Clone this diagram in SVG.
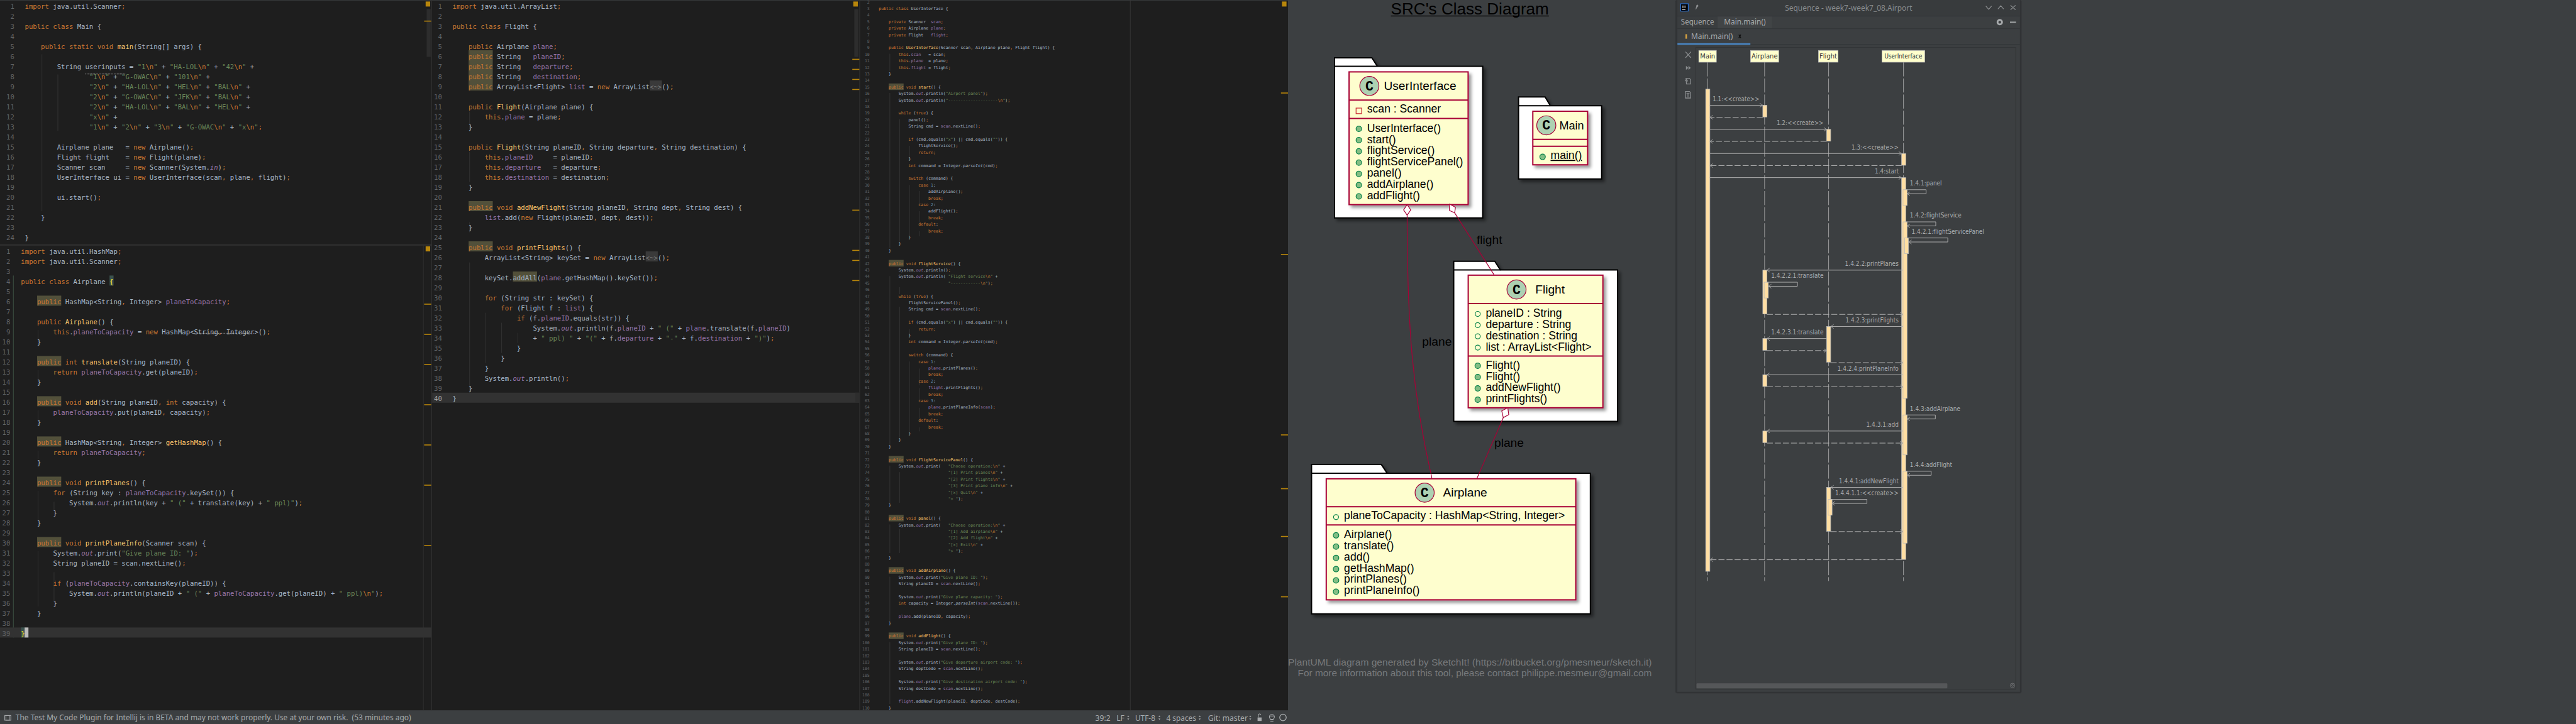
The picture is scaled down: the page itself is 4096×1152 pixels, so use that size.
<svg xmlns="http://www.w3.org/2000/svg" width="4096" height="1152" viewBox="0 0 4096 1152">
<defs>
<style>
text{white-space:pre}
.c{font-family:"DejaVu Sans Mono",monospace;font-size:13.29px;fill:#a9b7c6}
.c3{font-family:"DejaVu Sans Mono",monospace;font-size:8.2px;fill:#a9b7c6}
.n{fill:#606366;text-anchor:end}
.k{fill:#cc7832}.s{fill:#6a8759}.f{fill:#9876aa}.m{fill:#ffc66d}.i{fill:#9876aa;font-style:italic}.h{fill:#b4b4b4;font-style:italic}
.hl{fill:#52503a}.gd{stroke:#373737;stroke-width:1;fill:none}.mk{fill:#b8860b}.th{fill:#2d2d2d}
.ui{font-family:"Noto Sans",sans-serif;fill:#a8abad;font-size:15px}
.pkg{fill:#fff;stroke:#000;stroke-width:2.5;filter:url(#sh)}
.cls{fill:#fefece;stroke:#a80036;stroke-width:2.5;filter:url(#sh2)}
.sep{stroke:#a80036;stroke-width:2.5}
.circ{fill:#add1b2;stroke:#a80036;stroke-width:1.5}
.cg{font-family:"Liberation Mono",monospace;font-weight:bold;font-size:27px;text-anchor:middle;fill:#000}
.nm{font-family:"Liberation Sans",Arial,sans-serif;font-size:24px;fill:#000}
.mb{font-family:"Liberation Sans",Arial,sans-serif;font-size:22px;fill:#000}
.pm{fill:#84be84;stroke:#038048;stroke-width:1.5}
.pf{fill:none;stroke:#038048;stroke-width:1.5}
.cn{fill:none;stroke:#a80036;stroke-width:1.5}
.dm{fill:#fff;stroke:#a80036;stroke-width:1.5}
.lb{font-family:"Liberation Sans",Arial,sans-serif;font-size:24px;fill:#000}
.ft{font-family:"Liberation Sans",Arial,sans-serif;font-size:18.5px;fill:#77797b}
.ll{stroke:#b5b5b5;stroke-width:1;stroke-dasharray:28 4;fill:none}
.lf{fill:#ffc;stroke:#bbb;stroke-width:1}
.lt{font-family:"DejaVu Sans",sans-serif;font-size:12.5px;fill:#333;text-anchor:middle}
.b{fill:#ffdea3;stroke:#bbb;stroke-width:1}
.ms{stroke:#b5b5b5;stroke-width:1.2;fill:none;marker-end:url(#ah)}
.rt{stroke:#b5b5b5;stroke-width:1.2;fill:none;stroke-dasharray:12 4;marker-end:url(#ah)}
.sl{font-family:"DejaVu Sans",sans-serif;font-size:12.5px;fill:#a9abad}
.ic{fill:none;stroke:#8a8d8f;stroke-width:1.6}
</style>
<filter id="sh" x="-10%" y="-10%" width="125%" height="125%"><feDropShadow dx="5" dy="5" stdDeviation="3" flood-color="#000" flood-opacity=".45"/></filter>
<filter id="sh2" x="-10%" y="-10%" width="125%" height="125%"><feDropShadow dx="5" dy="5" stdDeviation="3" flood-color="#000" flood-opacity=".4"/></filter>
<marker id="ah" viewBox="0 -5 6 10" refX="6" refY="0" markerWidth="6" markerHeight="10" markerUnits="userSpaceOnUse" orient="auto"><path d="M0-4 6 0 0 4" fill="none" stroke="#a0a0a0" stroke-width="1.2"/></marker>
</defs>
<g transform="scale(.8)">
<rect width="5120" height="1440" fill="#3c3f41"/>
<g id="editor-background">
<rect width="2560" height="1413" fill="#1e1e1e"/>
<rect y="0" width="2560" height="1" fill="#3c3f41"/>
<rect y="486" width="858" height="2.5" fill="#323232"/>
<rect x="857" width="1.5" height="1413" fill="#323232"/>
<rect x="1708" width="1.5" height="1413" fill="#323232"/>
<rect x="2246" width="1" height="1413" fill="#3a3a3a"/>
<rect x="841" y="488" width="1" height="925" fill="#323232"/>
<rect x="26" y="548" width="1" height="720" fill="#46604f"/>
<rect y="1248" width="857" height="20" fill="#323232"/>
<rect x="858" y="781" width="850" height="20" fill="#323232"/>
</g>
<g id="stripes">
<rect class="th" x="848" y="18" width="8" height="95"/><rect class="th" x="1698" y="18" width="8" height="95"/>
<rect class="th" x="1700" y="781" width="8" height="19"/><rect class="th" x="857" y="782" width="3" height="18"/>
<rect class="mk" x="846" y="3" width="9" height="10"/><rect class="mk" x="843" y="41" width="14" height="2"/>
<rect class="mk" x="846" y="490" width="9" height="10"/>
<rect class="mk" x="843" y="604" width="14" height="2"/><rect class="mk" x="843" y="664" width="14" height="2"/><rect class="mk" x="843" y="724" width="14" height="2"/><rect class="mk" x="843" y="804" width="14" height="2"/><rect class="mk" x="843" y="884" width="14" height="2"/><rect class="mk" x="843" y="964" width="14" height="2"/><rect class="mk" x="843" y="1084" width="14" height="2"/>
<rect class="mk" x="1696" y="3" width="9" height="10"/>
<rect class="mk" x="1694" y="117" width="14" height="2"/><rect class="mk" x="1694" y="137" width="14" height="2"/><rect class="mk" x="1694" y="157" width="14" height="2"/><rect class="mk" x="1694" y="177" width="14" height="2"/><rect class="mk" x="1694" y="417" width="14" height="2"/><rect class="mk" x="1694" y="497" width="14" height="2"/><rect class="mk" x="1694" y="517" width="14" height="2"/><rect class="mk" x="1694" y="557" width="14" height="2"/>
<rect class="mk" x="2548" y="3" width="9" height="10"/>
<rect class="mk" x="2546" y="184" width="14" height="2"/><rect class="mk" x="2546" y="505" width="14" height="2"/><rect class="mk" x="2546" y="864" width="14" height="2"/><rect class="mk" x="2546" y="971" width="14" height="2"/><rect class="mk" x="2546" y="1066" width="14" height="2"/><rect class="mk" x="2546" y="1186" width="14" height="2"/>
</g>
<g id="highlights">
<rect class="hl" x="73.7" y="588" width="48" height="20"/><rect class="hl" x="73.7" y="708" width="48" height="20"/><rect class="hl" x="73.7" y="788" width="48" height="20"/><rect class="hl" x="73.7" y="868" width="48" height="20"/><rect class="hl" x="73.7" y="948" width="48" height="20"/><rect class="hl" x="73.7" y="1068" width="48" height="20"/>
<rect x="217.7" y="548" width="8" height="20" fill="#3b514d"/><rect x="41.7" y="1248" width="8" height="20" fill="#3b514d"/><rect x="49" y="1248" width="7.5" height="20" fill="#bbb"/>
<rect class="hl" x="931.4" y="100" width="48" height="80"/><rect class="hl" x="931.4" y="400" width="48" height="20"/><rect class="hl" x="931.4" y="480" width="48" height="20"/><rect class="hl" x="1019.4" y="540" width="48" height="20"/>
<rect x="1291.4" y="160" width="24" height="20" fill="#3a3a3a"/><rect x="1283.4" y="500" width="24" height="20" fill="#3a3a3a"/>
<rect class="hl" x="1766.4" y="166" width="29.6" height="13"/><rect class="hl" x="1766.4" y="517" width="29.6" height="13"/><rect class="hl" x="1766.4" y="907" width="29.6" height="13"/><rect class="hl" x="1766.4" y="1024" width="29.6" height="13"/><rect class="hl" x="1766.4" y="1128" width="29.6" height="13"/><rect class="hl" x="1766.4" y="1258" width="29.6" height="13"/>
</g>
<g id="indent-guides">
<path class="gd" d="M83.4 108V420M115 148V260M75.7 656V688M75.7 736V768M75.7 816V848M75.7 896V928M75.7 976V1036M107.4 998V1016M75.7 1096V1206M107.4 1138V1196"/>
<path class="gd" d="M933.4 222V262M933.4 302V362M933.4 442V462M933.4 522V782M965.2 622V722M997 642V702M1029.4 662V682"/>
<path class="gd" d="M1768.6 107V141M1768.6 185V494M1768.6 549V890M1768.6 926V1000M1768.6 1043V1100M1768.6 1147V1238M1768.6 1277V1400M1788.3 237V481M1788.3 571V585M1788.3 610V871M1788.3 939V1000M1788.3 1052V1100M1807.8 290V315M1807.8 368V468M1807.8 655V668M1807.8 719V858M1827.6 380V407M1827.6 420V445M1827.6 460V470M1827.6 733V766M1827.6 772V798M1827.6 811V838M1827.6 850V858"/>
<path d="M169.4 147H249.4M385.7 663H505.7" stroke="#9a9a9a" stroke-width="1.5" stroke-dasharray="1.5 1.5" fill="none"/>
</g>

<g id="code-main" class="c" transform="translate(49.4 0)" xml:space="preserve">
<text y="17"><tspan class="k">import</tspan> java.util.Scanner<tspan class="k">;</tspan></text>
<text y="57"><tspan class="k">public class</tspan> Main {</text>
<text y="97">    <tspan class="k">public static void</tspan> <tspan class="m">main</tspan>(String[] args) {</text>
<text y="137">        String userinputs = <tspan class="s">"1</tspan><tspan class="k">\n</tspan><tspan class="s">"</tspan> + <tspan class="s">"HA-LOL</tspan><tspan class="k">\n</tspan><tspan class="s">"</tspan> + <tspan class="s">"42</tspan><tspan class="k">\n</tspan><tspan class="s">"</tspan> +</text>
<text y="157">                <tspan class="s">"1</tspan><tspan class="k">\n</tspan><tspan class="s">"</tspan> + <tspan class="s">"G-OWAC</tspan><tspan class="k">\n</tspan><tspan class="s">"</tspan> + <tspan class="s">"101</tspan><tspan class="k">\n</tspan><tspan class="s">"</tspan> +</text>
<text y="177">                <tspan class="s">"2</tspan><tspan class="k">\n</tspan><tspan class="s">"</tspan> + <tspan class="s">"HA-LOL</tspan><tspan class="k">\n</tspan><tspan class="s">"</tspan> + <tspan class="s">"HEL</tspan><tspan class="k">\n</tspan><tspan class="s">"</tspan> + <tspan class="s">"BAL</tspan><tspan class="k">\n</tspan><tspan class="s">"</tspan> +</text>
<text y="197">                <tspan class="s">"2</tspan><tspan class="k">\n</tspan><tspan class="s">"</tspan> + <tspan class="s">"G-OWAC</tspan><tspan class="k">\n</tspan><tspan class="s">"</tspan> + <tspan class="s">"JFK</tspan><tspan class="k">\n</tspan><tspan class="s">"</tspan> + <tspan class="s">"BAL</tspan><tspan class="k">\n</tspan><tspan class="s">"</tspan> +</text>
<text y="217">                <tspan class="s">"2</tspan><tspan class="k">\n</tspan><tspan class="s">"</tspan> + <tspan class="s">"HA-LOL</tspan><tspan class="k">\n</tspan><tspan class="s">"</tspan> + <tspan class="s">"BAL</tspan><tspan class="k">\n</tspan><tspan class="s">"</tspan> + <tspan class="s">"HEL</tspan><tspan class="k">\n</tspan><tspan class="s">"</tspan> +</text>
<text y="237">                <tspan class="s">"x</tspan><tspan class="k">\n</tspan><tspan class="s">"</tspan> +</text>
<text y="257">                <tspan class="s">"1</tspan><tspan class="k">\n</tspan><tspan class="s">"</tspan> + <tspan class="s">"2</tspan><tspan class="k">\n</tspan><tspan class="s">"</tspan> + <tspan class="s">"3</tspan><tspan class="k">\n</tspan><tspan class="s">"</tspan> + <tspan class="s">"G-OWAC</tspan><tspan class="k">\n</tspan><tspan class="s">"</tspan> + <tspan class="s">"x</tspan><tspan class="k">\n</tspan><tspan class="s">"</tspan><tspan class="k">;</tspan></text>
<text y="297">        Airplane plane   = <tspan class="k">new</tspan> Airplane()<tspan class="k">;</tspan></text>
<text y="317">        Flight flight    = <tspan class="k">new</tspan> Flight(plane)<tspan class="k">;</tspan></text>
<text y="337">        Scanner scan     = <tspan class="k">new</tspan> Scanner(System.<tspan class="i">in</tspan>)<tspan class="k">;</tspan></text>
<text y="357">        UserInterface ui = <tspan class="k">new</tspan> UserInterface(scan<tspan class="k">,</tspan> plane<tspan class="k">,</tspan> flight)<tspan class="k">;</tspan></text>
<text y="397">        ui.start()<tspan class="k">;</tspan></text>
<text y="437">    }</text>
<text y="477">}</text>
</g>
<g id="nums-main" class="c n" transform="translate(28.5 0)">
<text y="17">1</text><text y="37">2</text><text y="57">3</text><text y="77">4</text><text y="97">5</text><text y="117">6</text><text y="137">7</text><text y="157">8</text><text y="177">9</text><text y="197">10</text><text y="217">11</text><text y="237">12</text><text y="257">13</text><text y="277">14</text><text y="297">15</text><text y="317">16</text><text y="337">17</text><text y="357">18</text><text y="377">19</text><text y="397">20</text><text y="417">21</text><text y="437">22</text><text y="457">23</text><text y="477">24</text>
</g>

<g id="code-airplane" class="c" transform="translate(41.7 0)" xml:space="preserve">
<text y="505"><tspan class="k">import</tspan> java.util.HashMap<tspan class="k">;</tspan></text>
<text y="525"><tspan class="k">import</tspan> java.util.Scanner<tspan class="k">;</tspan></text>
<text y="565"><tspan class="k">public class</tspan> Airplane <tspan fill="#ffef28">{</tspan></text>
<text y="605">    <tspan class="k">public</tspan> HashMap&lt;String<tspan class="k">,</tspan> Integer&gt; <tspan class="f">planeToCapacity</tspan><tspan class="k">;</tspan></text>
<text y="645">    <tspan class="k">public</tspan> <tspan class="m">Airplane</tspan>() {</text>
<text y="665">        <tspan class="k">this</tspan>.<tspan class="f">planeToCapacity</tspan> = <tspan class="k">new</tspan> HashMap&lt;String<tspan class="k">,</tspan> Integer&gt;()<tspan class="k">;</tspan></text>
<text y="685">    }</text>
<text y="725">    <tspan class="k">public int</tspan> <tspan class="m">translate</tspan>(String planeID) {</text>
<text y="745">        <tspan class="k">return</tspan> <tspan class="f">planeToCapacity</tspan>.get(planeID)<tspan class="k">;</tspan></text>
<text y="765">    }</text>
<text y="805">    <tspan class="k">public void</tspan> <tspan class="m">add</tspan>(String planeID<tspan class="k">,</tspan> <tspan class="k">int</tspan> capacity) {</text>
<text y="825">        <tspan class="f">planeToCapacity</tspan>.put(planeID<tspan class="k">,</tspan> capacity)<tspan class="k">;</tspan></text>
<text y="845">    }</text>
<text y="885">    <tspan class="k">public</tspan> HashMap&lt;String<tspan class="k">,</tspan> Integer&gt; <tspan class="m">getHashMap</tspan>() {</text>
<text y="905">        <tspan class="k">return</tspan> <tspan class="f">planeToCapacity</tspan><tspan class="k">;</tspan></text>
<text y="925">    }</text>
<text y="965">    <tspan class="k">public void</tspan> <tspan class="m">printPlanes</tspan>() {</text>
<text y="985">        <tspan class="k">for</tspan> (String key : <tspan class="f">planeToCapacity</tspan>.keySet()) {</text>
<text y="1005">            System.<tspan class="i">out</tspan>.println(key + <tspan class="s">" ("</tspan> + translate(key) + <tspan class="s">" ppl)"</tspan>)<tspan class="k">;</tspan></text>
<text y="1025">        }</text>
<text y="1045">    }</text>
<text y="1085">    <tspan class="k">public void</tspan> <tspan class="m">printPlaneInfo</tspan>(Scanner scan) {</text>
<text y="1105">        System.<tspan class="i">out</tspan>.print(<tspan class="s">"Give plane ID: "</tspan>)<tspan class="k">;</tspan></text>
<text y="1125">        String planeID = scan.nextLine()<tspan class="k">;</tspan></text>
<text y="1165">        <tspan class="k">if</tspan> (<tspan class="f">planeToCapacity</tspan>.containsKey(planeID)) {</text>
<text y="1185">            System.<tspan class="i">out</tspan>.println(planeID + <tspan class="s">" ("</tspan> + <tspan class="f">planeToCapacity</tspan>.get(planeID) + <tspan class="s">" ppl)</tspan><tspan class="k">\n</tspan><tspan class="s">"</tspan>)<tspan class="k">;</tspan></text>
<text y="1205">        }</text>
<text y="1225">    }</text>
<text y="1265" fill="#ffef28" style="fill:#ffef28">}</text>
</g>
<g id="nums-airplane" class="c n" transform="translate(20.5 0)">
<text y="505">1</text><text y="525">2</text><text y="545">3</text><text y="565">4</text><text y="585">5</text><text y="605">6</text><text y="625">7</text><text y="645">8</text><text y="665">9</text><text y="685">10</text><text y="705">11</text><text y="725">12</text><text y="745">13</text><text y="765">14</text><text y="785">15</text><text y="805">16</text><text y="825">17</text><text y="845">18</text><text y="865">19</text><text y="885">20</text><text y="905">21</text><text y="925">22</text><text y="945">23</text><text y="965">24</text><text y="985">25</text><text y="1005">26</text><text y="1025">27</text><text y="1045">28</text><text y="1065">29</text><text y="1085">30</text><text y="1105">31</text><text y="1125">32</text><text y="1145">33</text><text y="1165">34</text><text y="1185">35</text><text y="1205">36</text><text y="1225">37</text><text y="1245">38</text><text y="1265">39</text>
</g>

<g id="code-flight" class="c" transform="translate(899.4 0)" xml:space="preserve">
<text y="17"><tspan class="k">import</tspan> java.util.ArrayList<tspan class="k">;</tspan></text>
<text y="57"><tspan class="k">public class</tspan> Flight {</text>
<text y="97">    <tspan class="k">public</tspan> Airplane <tspan class="f">plane</tspan><tspan class="k">;</tspan></text>
<text y="117">    <tspan class="k">public</tspan> String   <tspan class="f">planeID</tspan><tspan class="k">;</tspan></text>
<text y="137">    <tspan class="k">public</tspan> String   <tspan class="f">departure</tspan><tspan class="k">;</tspan></text>
<text y="157">    <tspan class="k">public</tspan> String   <tspan class="f">destination</tspan><tspan class="k">;</tspan></text>
<text y="177">    <tspan class="k">public</tspan> ArrayList&lt;Flight&gt; <tspan class="f">list</tspan> = <tspan class="k">new</tspan> ArrayList<tspan fill="#777" style="fill:#777">&lt;~&gt;</tspan>()<tspan class="k">;</tspan></text>
<text y="217">    <tspan class="k">public</tspan> <tspan class="m">Flight</tspan>(Airplane plane) {</text>
<text y="237">        <tspan class="k">this</tspan>.<tspan class="f">plane</tspan> = plane<tspan class="k">;</tspan></text>
<text y="257">    }</text>
<text y="297">    <tspan class="k">public</tspan> <tspan class="m">Flight</tspan>(String planeID<tspan class="k">,</tspan> String departure<tspan class="k">,</tspan> String destination) {</text>
<text y="317">        <tspan class="k">this</tspan>.<tspan class="f">planeID</tspan>     = planeID<tspan class="k">;</tspan></text>
<text y="337">        <tspan class="k">this</tspan>.<tspan class="f">departure</tspan>   = departure<tspan class="k">;</tspan></text>
<text y="357">        <tspan class="k">this</tspan>.<tspan class="f">destination</tspan> = destination<tspan class="k">;</tspan></text>
<text y="377">    }</text>
<text y="417">    <tspan class="k">public void</tspan> <tspan class="m">addNewFlight</tspan>(String planeID<tspan class="k">,</tspan> String dept<tspan class="k">,</tspan> String dest) {</text>
<text y="437">        <tspan class="f">list</tspan>.add(<tspan class="k">new</tspan> Flight(planeID<tspan class="k">,</tspan> dept<tspan class="k">,</tspan> dest))<tspan class="k">;</tspan></text>
<text y="457">    }</text>
<text y="497">    <tspan class="k">public void</tspan> <tspan class="m">printFlights</tspan>() {</text>
<text y="517">        ArrayList&lt;String&gt; keySet = <tspan class="k">new</tspan> ArrayList<tspan style="fill:#777">&lt;~&gt;</tspan>()<tspan class="k">;</tspan></text>
<text y="557">        keySet.addAll(<tspan class="f">plane</tspan>.getHashMap().keySet())<tspan class="k">;</tspan></text>
<text y="597">        <tspan class="k">for</tspan> (String str : keySet) {</text>
<text y="617">            <tspan class="k">for</tspan> (Flight f : <tspan class="f">list</tspan>) {</text>
<text y="637">                <tspan class="k">if</tspan> (f.<tspan class="f">planeID</tspan>.equals(str)) {</text>
<text y="657">                    System.<tspan class="i">out</tspan>.println(f.<tspan class="f">planeID</tspan> + <tspan class="s">" ("</tspan> + <tspan class="f">plane</tspan>.translate(f.<tspan class="f">planeID</tspan>)</text>
<text y="677">                    + <tspan class="s">" ppl) "</tspan> + <tspan class="s">"("</tspan> + f.<tspan class="f">departure</tspan> + <tspan class="s">"-"</tspan> + f.<tspan class="f">destination</tspan> + <tspan class="s">")"</tspan>)<tspan class="k">;</tspan></text>
<text y="697">                }</text>
<text y="717">            }</text>
<text y="737">        }</text>
<text y="757">        System.<tspan class="i">out</tspan>.println()<tspan class="k">;</tspan></text>
<text y="777">    }</text>
<text y="797">}</text>
</g>
<g id="nums-flight" class="c n" transform="translate(878.5 0)">
<text y="17">1</text><text y="37">2</text><text y="57">3</text><text y="77">4</text><text y="97">5</text><text y="117">6</text><text y="137">7</text><text y="157">8</text><text y="177">9</text><text y="197">10</text><text y="217">11</text><text y="237">12</text><text y="257">13</text><text y="277">14</text><text y="297">15</text><text y="317">16</text><text y="337">17</text><text y="357">18</text><text y="377">19</text><text y="397">20</text><text y="417">21</text><text y="437">22</text><text y="457">23</text><text y="477">24</text><text y="497">25</text><text y="517">26</text><text y="537">27</text><text y="557">28</text><text y="577">29</text><text y="597">30</text><text y="617">31</text><text y="637">32</text><text y="657">33</text><text y="677">34</text><text y="697">35</text><text y="717">36</text><text y="737">37</text><text y="757">38</text><text y="777">39</text><text y="797" style="fill:#a4a3a3">40</text>
</g>

<g id="code-userinterface" class="c3" transform="translate(1746.6 0)" xml:space="preserve">
<text y="20"><tspan class="k">public class</tspan> UserInterface {</text>
<text y="46">    <tspan class="k">private</tspan> Scanner  <tspan class="f">scan</tspan><tspan class="k">;</tspan></text>
<text y="59">    <tspan class="k">private</tspan> Airplane <tspan class="f">plane</tspan><tspan class="k">;</tspan></text>
<text y="72">    <tspan class="k">private</tspan> Flight   <tspan class="f">flight</tspan><tspan class="k">;</tspan></text>
<text y="98">    <tspan class="k">public</tspan> <tspan class="m">UserInterface</tspan>(Scanner scan<tspan class="k">,</tspan> Airplane plane<tspan class="k">,</tspan> Flight flight) {</text>
<text y="111">        <tspan class="k">this</tspan>.<tspan class="f">scan</tspan>   = scan<tspan class="k">;</tspan></text>
<text y="124">        <tspan class="k">this</tspan>.<tspan class="f">plane</tspan>  = plane<tspan class="k">;</tspan></text>
<text y="137">        <tspan class="k">this</tspan>.<tspan class="f">flight</tspan> = flight<tspan class="k">;</tspan></text>
<text y="150">    }</text>
<text y="176">    <tspan class="k">public void</tspan> <tspan class="m">start</tspan>() {</text>
<text y="189">        System.<tspan class="i">out</tspan>.println(<tspan class="s">"Airport panel"</tspan>)<tspan class="k">;</tspan></text>
<text y="202">        System.<tspan class="i">out</tspan>.println(<tspan class="s">"--------------------</tspan><tspan class="k">\n</tspan><tspan class="s">"</tspan>)<tspan class="k">;</tspan></text>
<text y="228">        <tspan class="k">while</tspan> (<tspan class="k">true</tspan>) {</text>
<text y="241">            panel()<tspan class="k">;</tspan></text>
<text y="254">            String cmd = <tspan class="f">scan</tspan>.nextLine()<tspan class="k">;</tspan></text>
<text y="280">            <tspan class="k">if</tspan> (cmd.equals(<tspan class="s">"x"</tspan>) || cmd.equals(<tspan class="s">""</tspan>)) {</text>
<text y="293">                flightService()<tspan class="k">;</tspan></text>
<text y="306">                <tspan class="k">return;</tspan></text>
<text y="319">            }</text>
<text y="332">            <tspan class="k">int</tspan> command = Integer.<tspan font-style="italic" style="font-style:italic">parseInt</tspan>(cmd)<tspan class="k">;</tspan></text>
<text y="358">            <tspan class="k">switch</tspan> (command) {</text>
<text y="371">                <tspan class="k">case</tspan> <tspan fill="#6897bb" style="fill:#6897bb">1</tspan>:</text>
<text y="384">                    addAirplane()<tspan class="k">;</tspan></text>
<text y="397">                    <tspan class="k">break;</tspan></text>
<text y="410">                <tspan class="k">case</tspan> <tspan style="fill:#6897bb">2</tspan>:</text>
<text y="423">                    addFlight()<tspan class="k">;</tspan></text>
<text y="436">                    <tspan class="k">break;</tspan></text>
<text y="449">                <tspan class="k">default</tspan>:</text>
<text y="462">                    <tspan class="k">break;</tspan></text>
<text y="475">            }</text>
<text y="488">        }</text>
<text y="501">    }</text>
<text y="527">    <tspan class="k">public void</tspan> <tspan class="m">flightService</tspan>() {</text>
<text y="540">        System.<tspan class="i">out</tspan>.println()<tspan class="k">;</tspan></text>
<text y="553">        System.<tspan class="i">out</tspan>.println( <tspan class="s">"Flight service</tspan><tspan class="k">\n</tspan><tspan class="s">"</tspan> +</text>
<text y="566">                            <tspan class="s">"------------</tspan><tspan class="k">\n</tspan><tspan class="s">"</tspan>)<tspan class="k">;</tspan></text>
<text y="592">        <tspan class="k">while</tspan> (<tspan class="k">true</tspan>) {</text>
<text y="605">            flightServicePanel()<tspan class="k">;</tspan></text>
<text y="618">            String cmd = <tspan class="f">scan</tspan>.nextLine()<tspan class="k">;</tspan></text>
<text y="644">            <tspan class="k">if</tspan> (cmd.equals(<tspan class="s">"x"</tspan>) || cmd.equals(<tspan class="s">""</tspan>)) {</text>
<text y="657">                <tspan class="k">return;</tspan></text>
<text y="670">            }</text>
<text y="683">            <tspan class="k">int</tspan> command = Integer.<tspan style="font-style:italic">parseInt</tspan>(cmd)<tspan class="k">;</tspan></text>
<text y="709">            <tspan class="k">switch</tspan> (command) {</text>
<text y="722">                <tspan class="k">case</tspan> <tspan style="fill:#6897bb">1</tspan>:</text>
<text y="735">                    <tspan class="f">plane</tspan>.printPlanes()<tspan class="k">;</tspan></text>
<text y="748">                    <tspan class="k">break;</tspan></text>
<text y="761">                <tspan class="k">case</tspan> <tspan style="fill:#6897bb">2</tspan>:</text>
<text y="774">                    <tspan class="f">flight</tspan>.printFlights()<tspan class="k">;</tspan></text>
<text y="787">                    <tspan class="k">break;</tspan></text>
<text y="800">                <tspan class="k">case</tspan> <tspan style="fill:#6897bb">3</tspan>:</text>
<text y="813">                    <tspan class="f">plane</tspan>.printPlaneInfo(<tspan class="f">scan</tspan>)<tspan class="k">;</tspan></text>
<text y="826">                    <tspan class="k">break;</tspan></text>
<text y="839">                <tspan class="k">default</tspan>:</text>
<text y="852">                    <tspan class="k">break;</tspan></text>
<text y="865">            }</text>
<text y="878">        }</text>
<text y="891">    }</text>
<text y="917">    <tspan class="k">public void</tspan> <tspan class="m">flightServicePanel</tspan>() {</text>
<text y="930">        System.<tspan class="i">out</tspan>.print(   <tspan class="s">"Choose operation:</tspan><tspan class="k">\n</tspan><tspan class="s">"</tspan> +</text>
<text y="943">                            <tspan class="s">"[1] Print planes</tspan><tspan class="k">\n</tspan><tspan class="s">"</tspan> +</text>
<text y="956">                            <tspan class="s">"[2] Print flights</tspan><tspan class="k">\n</tspan><tspan class="s">"</tspan> +</text>
<text y="969">                            <tspan class="s">"[3] Print plane info</tspan><tspan class="k">\n</tspan><tspan class="s">"</tspan> +</text>
<text y="982">                            <tspan class="s">"[x] Quit</tspan><tspan class="k">\n</tspan><tspan class="s">"</tspan> +</text>
<text y="995">                            <tspan class="s">"&gt; "</tspan>)<tspan class="k">;</tspan></text>
<text y="1008">    }</text>
<text y="1034">    <tspan class="k">public void</tspan> <tspan class="m">panel</tspan>() {</text>
<text y="1047">        System.<tspan class="i">out</tspan>.print(   <tspan class="s">"Choose operation:</tspan><tspan class="k">\n</tspan><tspan class="s">"</tspan> +</text>
<text y="1060">                            <tspan class="s">"[1] Add airplane</tspan><tspan class="k">\n</tspan><tspan class="s">"</tspan> +</text>
<text y="1073">                            <tspan class="s">"[2] Add flight</tspan><tspan class="k">\n</tspan><tspan class="s">"</tspan> +</text>
<text y="1086">                            <tspan class="s">"[x] Exit</tspan><tspan class="k">\n</tspan><tspan class="s">"</tspan> +</text>
<text y="1099">                            <tspan class="s">"&gt; "</tspan>)<tspan class="k">;</tspan></text>
<text y="1112">    }</text>
<text y="1138">    <tspan class="k">public void</tspan> <tspan class="m">addAirplane</tspan>() {</text>
<text y="1151">        System.<tspan class="i">out</tspan>.print(<tspan class="s">"Give plane ID: "</tspan>)<tspan class="k">;</tspan></text>
<text y="1164">        String planeID = <tspan class="f">scan</tspan>.nextLine()<tspan class="k">;</tspan></text>
<text y="1190">        System.<tspan class="i">out</tspan>.print(<tspan class="s">"Give plane capacity: "</tspan>)<tspan class="k">;</tspan></text>
<text y="1203">        <tspan class="k">int</tspan> capacity = Integer.<tspan style="font-style:italic">parseInt</tspan>(<tspan class="f">scan</tspan>.nextLine())<tspan class="k">;</tspan></text>
<text y="1229">        <tspan class="f">plane</tspan>.add(planeID<tspan class="k">,</tspan> capacity)<tspan class="k">;</tspan></text>
<text y="1242">    }</text>
<text y="1268">    <tspan class="k">public void</tspan> <tspan class="m">addFlight</tspan>() {</text>
<text y="1281">        System.<tspan class="i">out</tspan>.print(<tspan class="s">"Give plane ID: "</tspan>)<tspan class="k">;</tspan></text>
<text y="1294">        String planeID = <tspan class="f">scan</tspan>.nextLine()<tspan class="k">;</tspan></text>
<text y="1320">        System.<tspan class="i">out</tspan>.print(<tspan class="s">"Give departure airport code: "</tspan>)<tspan class="k">;</tspan></text>
<text y="1333">        String deptCode = <tspan class="f">scan</tspan>.nextLine()<tspan class="k">;</tspan></text>
<text y="1359">        System.<tspan class="i">out</tspan>.print(<tspan class="s">"Give destination airport code: "</tspan>)<tspan class="k">;</tspan></text>
<text y="1372">        String destCode = <tspan class="f">scan</tspan>.nextLine()<tspan class="k">;</tspan></text>
<text y="1398">        <tspan class="f">flight</tspan>.addNewFlight(planeID<tspan class="k">,</tspan> deptCode<tspan class="k">,</tspan> destCode)<tspan class="k">;</tspan></text>
<text y="1411">    }</text>
</g>
<g id="nums-userinterface" class="c3 n" transform="translate(1728.5 0)">
<text y="7">2</text><text y="20">3</text><text y="33">4</text><text y="46">5</text><text y="59">6</text><text y="72">7</text><text y="85">8</text><text y="98">9</text><text y="111">10</text><text y="124">11</text><text y="137">12</text><text y="150">13</text><text y="163">14</text><text y="176">15</text><text y="189">16</text><text y="202">17</text><text y="215">18</text><text y="228">19</text><text y="241">20</text><text y="254">21</text><text y="267">22</text><text y="280">23</text><text y="293">24</text><text y="306">25</text><text y="319">26</text><text y="332">27</text><text y="345">28</text><text y="358">29</text><text y="371">30</text><text y="384">31</text><text y="397">32</text><text y="410">33</text><text y="423">34</text><text y="436">35</text><text y="449">36</text><text y="462">37</text><text y="475">38</text><text y="488">39</text><text y="501">40</text><text y="514">41</text><text y="527">42</text><text y="540">43</text><text y="553">44</text><text y="566">45</text><text y="579">46</text><text y="592">47</text><text y="605">48</text><text y="618">49</text><text y="631">50</text><text y="644">51</text><text y="657">52</text><text y="670">53</text><text y="683">54</text><text y="696">55</text><text y="709">56</text><text y="722">57</text><text y="735">58</text><text y="748">59</text><text y="761">60</text><text y="774">61</text><text y="787">62</text><text y="800">63</text><text y="813">64</text><text y="826">65</text><text y="839">66</text><text y="852">67</text><text y="865">68</text><text y="878">69</text><text y="891">70</text><text y="904">71</text><text y="917">72</text><text y="930">73</text><text y="943">74</text><text y="956">75</text><text y="969">76</text><text y="982">77</text><text y="995">78</text><text y="1008">79</text><text y="1021">80</text><text y="1034">81</text><text y="1047">82</text><text y="1060">83</text><text y="1073">84</text><text y="1086">85</text><text y="1099">86</text><text y="1112">87</text><text y="1125">88</text><text y="1138">89</text><text y="1151">90</text><text y="1164">91</text><text y="1177">92</text><text y="1190">93</text><text y="1203">94</text><text y="1216">95</text><text y="1229">96</text><text y="1242">97</text><text y="1255">98</text><text y="1268">99</text><text y="1281">100</text><text y="1294">101</text><text y="1307">102</text><text y="1320">103</text><text y="1333">104</text><text y="1346">105</text><text y="1359">106</text><text y="1372">107</text><text y="1385">108</text><text y="1398">109</text><text y="1411">110</text>
</g>

<g id="status-bar">
<rect y="1413" width="2560" height="27" fill="#3c3f41"/>
<rect x="9.5" y="1423" width="12" height="9.5" fill="none" stroke="#a8abad" stroke-width="1.3"/>
<rect x="12" y="1423" width="7" height="9.5" fill="none" stroke="#a8abad" stroke-width="1"/>
<text class="ui" x="31" y="1433" textLength="786" lengthAdjust="spacingAndGlyphs">The Test My Code Plugin for Intellij is in BETA and may not work properly. Use at your own risk.  (53 minutes ago)</text>
<text class="ui" x="2177" y="1434" textLength="30" lengthAdjust="spacingAndGlyphs">39:2</text>
<text class="ui" x="2219" y="1434" textLength="16" lengthAdjust="spacingAndGlyphs">LF</text>
<text class="ui" x="2256.2" y="1434" textLength="40" lengthAdjust="spacingAndGlyphs">UTF-8</text>
<text class="ui" x="2318" y="1434" textLength="59.5" lengthAdjust="spacingAndGlyphs">4 spaces</text>
<text class="ui" x="2401" y="1434" textLength="79" lengthAdjust="spacingAndGlyphs">Git: master</text>
<path fill="#a8abad" d="M2240.5 1426l2-3 2 3zM2240.5 1429l2 3 2-3zM2302.5 1426l2-3 2 3zM2302.5 1429l2 3 2-3zM2382.6 1426l2-3 2 3zM2382.6 1429l2 3 2-3zM2483 1426l2-3 2 3zM2483 1429l2 3 2-3z"/>
<rect x="2499.5" y="1427" width="8" height="7" fill="#a8abad"/><path d="M2501 1427v-4a2.5 2.5 0 0 1 5-1" fill="none" stroke="#a8abad" stroke-width="1.3"/>
<circle cx="2528" cy="1426" r="5" fill="none" stroke="#a8abad" stroke-width="1.3"/><path d="M2523 1424h10M2524 1432h8M2525 1435h6" stroke="#a8abad" stroke-width="1.3" fill="none"/>
<circle cx="2550" cy="1427" r="6.5" fill="none" stroke="#a8abad" stroke-width="1.6"/>
</g>

<g id="class-diagram">
<text x="2764.5" y="28.5" font-family="Liberation Sans, Arial, sans-serif" font-size="32.6" fill="#000" textLength="314" lengthAdjust="spacingAndGlyphs">SRC's Class Diagram</text>
<rect x="2764.5" y="31" width="314" height="1.6" fill="#000"/>

<g id="node-UserInterface">
<path class="pkg" d="M2652.5 115H2726.7L2737.6 132H2947V433.4H2652.5Z"/><path d="M2652.5 132H2737.6" stroke="#000" stroke-width="2.5"/>
<rect class="cls" x="2681.4" y="143" width="236.6" height="264"/>
<path class="sep" d="M2681.4 199H2918M2681.4 235.5H2918"/>
<circle class="circ" cx="2721.7" cy="171" r="19"/><text class="cg" x="2721.7" y="179.5">C</text>
<text class="nm" x="2750.5" y="179">UserInterface</text>
<rect x="2695.3" y="215" width="11" height="11" fill="none" stroke="#c82930" stroke-width="1.5"/>
<text class="mb" x="2717.2" y="224">scan : Scanner</text>
<circle class="pm" cx="2700.8" cy="256.2" r="5.5"/><text class="mb" x="2717.2" y="262">UserInterface()</text>
<circle class="pm" cx="2700.8" cy="278.6" r="5.5"/><text class="mb" x="2717.2" y="284.5">start()</text>
<circle class="pm" cx="2700.8" cy="301" r="5.5"/><text class="mb" x="2717.2" y="306.7">flightService()</text>
<circle class="pm" cx="2700.8" cy="323.4" r="5.5"/><text class="mb" x="2717.2" y="329">flightServicePanel()</text>
<circle class="pm" cx="2700.8" cy="345.8" r="5.5"/><text class="mb" x="2717.2" y="351.5">panel()</text>
<circle class="pm" cx="2700.8" cy="368.2" r="5.5"/><text class="mb" x="2717.2" y="374">addAirplane()</text>
<circle class="pm" cx="2700.8" cy="390.6" r="5.5"/><text class="mb" x="2717.2" y="396">addFlight()</text>
</g>

<g id="node-Main">
<path class="pkg" d="M3018.2 192.8H3071L3081.4 210.3H3183.4V355.8H3018.2Z"/><path d="M3018.2 210.3H3081.4" stroke="#000" stroke-width="2.5"/>
<rect class="cls" x="3046.6" y="221.3" width="108.9" height="106.5"/>
<path class="sep" d="M3046.6 277.3H3155.5M3046.6 291H3155.5"/>
<circle class="circ" cx="3073.4" cy="249.3" r="19"/><text class="cg" x="3073.4" y="258">C</text>
<text class="nm" x="3099.3" y="257.6" textLength="49" lengthAdjust="spacingAndGlyphs">Main</text>
<circle class="pm" cx="3066" cy="312" r="5.5"/><text class="mb" x="3081.9" y="316.8" text-decoration="underline">main()</text>
</g>

<g id="node-Flight">
<path class="pkg" d="M2889.4 519.7H2971L2982 537H3215V838H2889.4Z"/><path d="M2889.4 537H2982" stroke="#000" stroke-width="2.5"/>
<rect class="cls" x="2918.2" y="547.3" width="267.7" height="263.7"/>
<path class="sep" d="M2918.2 603.8H3185.9M2918.2 708H3185.9"/>
<circle class="circ" cx="3014.2" cy="575.8" r="19"/><text class="cg" x="3014.2" y="584.5">C</text>
<text class="nm" x="3051.5" y="584">Flight</text>
<circle class="pf" cx="2937.1" cy="624.4" r="5"/><text class="mb" x="2953" y="630">planeID : String</text>
<circle class="pf" cx="2937.1" cy="646.7" r="5"/><text class="mb" x="2953" y="652.4">departure : String</text>
<circle class="pf" cx="2937.1" cy="669" r="5"/><text class="mb" x="2953" y="674.4">destination : String</text>
<circle class="pf" cx="2937.1" cy="691.3" r="5"/><text class="mb" x="2953" y="697">list : ArrayList&lt;Flight&gt;</text>
<circle class="pm" cx="2937.1" cy="727.5" r="5.5"/><text class="mb" x="2953" y="733.5">Flight()</text>
<circle class="pm" cx="2937.1" cy="750" r="5.5"/><text class="mb" x="2953" y="755.8">Flight()</text>
<circle class="pm" cx="2937.1" cy="772.5" r="5.5"/><text class="mb" x="2953" y="778">addNewFlight()</text>
<circle class="pm" cx="2937.1" cy="795" r="5.5"/><text class="mb" x="2953" y="800">printFlights()</text>
</g>

<g id="node-Airplane">
<path class="pkg" d="M2606.8 923.9H2745.6L2757 941.3H3161V1221H2606.8Z"/><path d="M2606.8 941.3H2757" stroke="#000" stroke-width="2.5"/>
<rect class="cls" x="2636" y="952.3" width="496" height="240.7"/>
<path class="sep" d="M2636 1007.9H3132M2636 1044H3132"/>
<circle class="circ" cx="2831.6" cy="979.9" r="19"/><text class="cg" x="2831.6" y="988.5">C</text>
<text class="nm" x="2868" y="987">Airplane</text>
<circle class="pf" cx="2655.5" cy="1028.5" r="5"/><text class="mb" x="2671.4" y="1033">planeToCapacity : HashMap&lt;String, Integer&gt;</text>
<circle class="pm" cx="2655.5" cy="1064.8" r="5.5"/><text class="mb" x="2671.4" y="1070">Airplane()</text>
<circle class="pm" cx="2655.5" cy="1087.2" r="5.5"/><text class="mb" x="2671.4" y="1092.4">translate()</text>
<circle class="pm" cx="2655.5" cy="1109.6" r="5.5"/><text class="mb" x="2671.4" y="1114.7">add()</text>
<circle class="pm" cx="2655.5" cy="1132" r="5.5"/><text class="mb" x="2671.4" y="1137">getHashMap()</text>
<circle class="pm" cx="2655.5" cy="1154.4" r="5.5"/><text class="mb" x="2671.4" y="1159">printPlanes()</text>
<circle class="pm" cx="2655.5" cy="1176.8" r="5.5"/><text class="mb" x="2671.4" y="1181">printPlaneInfo()</text>
</g>

<g id="class-connectors">
<path class="cn" d="M2796.8 428C2797 640 2806 780 2846 951"/>
<path class="dm" d="M2796.8 407L2804 417.5 2796.8 428 2789.8 417.5Z"/>
<path class="cn" d="M2891 423L2969.5 546.4"/>
<path class="dm" d="M2880.9 406L2892.8 412.3 2891.3 423.3 2880.9 418.7Z"/>
<path class="cn" d="M2987.9 830.7L2935.6 951.4"/>
<path class="dm" d="M2996.8 810.9L2998.8 824.7 2987.9 830.7 2984.9 817.3Z"/>
<text class="lb" x="2826.7" y="687">plane</text>
<text class="lb" x="2935" y="484.9">flight</text>
<text class="lb" x="2970" y="888.5">plane</text>
</g>
<text class="ft" x="2560" y="1324" textLength="723" lengthAdjust="spacingAndGlyphs">PlantUML diagram generated by SketchIt! (https://bitbucket.org/pmesmeur/sketch.it)</text>
<text class="ft" x="2579.4" y="1344.4" textLength="703.5" lengthAdjust="spacingAndGlyphs">For more information about this tool, please contact philippe.mesmeur@gmail.com</text>
</g>

<g id="sequence-window">
<rect x="3330" y="0" width="688" height="1379" rx="3" fill="#313335"/>
<rect x="3333.8" y="0" width="681" height="1376" fill="#3c3f41"/>
<rect x="3333.8" y="0" width="681" height="32" fill="#383b3d"/>
<rect x="3333.8" y="32" width="80" height="25" fill="#3a3d3f"/>
<rect x="3414" y="32" width="108" height="25" fill="#414446"/>
<path d="M3333.8 32H4014.8M3333.8 57H4014.8M3333.8 88.5H4014.8" stroke="#323537" stroke-width="1.2"/>
<rect x="3334" y="86" width="145" height="3" fill="#4a88c7"/>
<rect x="3370.5" y="94.3" width="635.9" height="1276.4" fill="none" stroke="#323537" stroke-width="1.2"/>
<rect x="3340.5" y="7.5" width="15" height="14.5" fill="#000" stroke="#2470d8" stroke-width="1.5"/><path d="M3343 19h7M3345 11v5M3349 11v5" stroke="#fff" stroke-width="1.4"/>
<path d="M3374 9l2 3-3 3-2 4-1-1 1-4 1-4z" fill="#8a8d8f"/>
<text class="ui" x="3547.7" y="20.7" textLength="253" lengthAdjust="spacingAndGlyphs" style="fill:#878a8c">Sequence - week7-week7_08.Airport</text>
<path class="ic" d="M3947 12l5.700 6.500 5.700-6.500M3971 18l5.700-6.500 5.700 6.500M3996 10.500l10 9M4006 10.500l-10 9"/>
<text class="ui" x="3341" y="49.300" textLength="66" lengthAdjust="spacingAndGlyphs">Sequence</text>
<text class="ui" x="3426.500" y="49.300" textLength="83" lengthAdjust="spacingAndGlyphs">Main.main()</text>
<circle cx="3974.700" cy="44" r="4.500" fill="none" stroke="#a8abad" stroke-width="3.500"/>
<rect x="3995" y="43" width="12" height="2.200" fill="#a8abad"/>
<rect x="3350" y="68" width="3" height="9" fill="#d9a441"/>
<text class="ui" x="3361.300" y="78" textLength="83" lengthAdjust="spacingAndGlyphs">Main.main()</text>
<path d="M3456 69l4 6.500M3460 69l-4 6.500" stroke="#111" stroke-width="1.800"/>
<path class="ic" d="M3350 103l11 12M3361 103l-11 12"/>
<path d="M3351 131l4.500 4-4.500 4zM3356 131l4.500 4-4.500 4z" fill="#8a8d8f"/>
<path class="ic" d="M3351 156h7l2 2v9h-8zM3355 161l-5-1 3-3"/>
<path class="ic" d="M3350 182h8l2 2v11h-10zM3352 186h6M3355 186v7"/>
<rect x="3371.900" y="1359" width="498.600" height="10" rx="1.500" fill="#555759"/>
<circle cx="4000" cy="1363.300" r="4.500" fill="none" stroke="#77797b"/><circle cx="4000" cy="1363.300" r="1.800" fill="none" stroke="#77797b"/>
</g>

<g id="lifeline-Main">
<path class="ll" d="M3394.4 124V1155.700"/>
<rect class="lf" x="3376.500" y="100.300" width="34.900" height="23.400"/><text class="lt" x="3394" y="116">Main</text>
<rect class="b" x="3390.200" y="177.300" width="8.300" height="959"/>
</g>
<g id="lifeline-Airplane">
<path class="ll" d="M3507.300 124V1155.700"/>
<rect class="lf" x="3479.300" y="100.300" width="56" height="23.400"/><text class="lt" x="3507.300" y="116">Airplane</text>
<rect class="b" x="3503.700" y="209.300" width="8" height="23.400"/>
<rect class="b" x="3503.700" y="537.300" width="8" height="87"/>
<rect class="b" x="3506.400" y="561.300" width="8.300" height="31.400"/>
<rect class="b" x="3503.700" y="673.300" width="8" height="23.400"/>
<rect class="b" x="3503.700" y="745.300" width="8" height="23.400"/>
<rect class="b" x="3503.700" y="857.300" width="8" height="23"/>
</g>
<g id="lifeline-Flight">
<path class="ll" d="M3634.500 124V1155.700"/>
<rect class="lf" x="3614.300" y="100.300" width="39" height="23.400"/><text class="lt" x="3633.800" y="116">Flight</text>
<rect class="b" x="3630.400" y="257.300" width="8.200" height="23.400"/>
<rect class="b" x="3630.400" y="649.300" width="8.200" height="71"/>
<rect class="b" x="3630.400" y="969.300" width="8.200" height="87.400"/>
<rect class="b" x="3633.600" y="993.300" width="7.800" height="31.400"/>
</g>
<g id="lifeline-UserInterface">
<path class="ll" d="M3783.300 124V1155.700"/>
<rect class="lf" x="3740.600" y="100.300" width="84.900" height="23.400"/><text class="lt" x="3783" y="116" textLength="75" lengthAdjust="spacingAndGlyphs">UserInterface</text>
<rect class="b" x="3779.600" y="305.300" width="8.200" height="23.400"/>
<rect class="b" x="3779.600" y="353.300" width="8.200" height="759.400"/>
<rect class="b" x="3782.400" y="377.300" width="8.200" height="31.400"/>
<rect class="b" x="3782.400" y="441.300" width="8.200" height="351"/>
<rect class="b" x="3785.600" y="473.300" width="7.800" height="31"/>
<rect class="b" x="3782.400" y="825.300" width="8.200" height="79.400"/>
<rect class="b" x="3782.400" y="937.300" width="8.200" height="143"/>
</g>

<g id="connectors">
<path class="ms" d="M3398.500 209.300H3503.700"/><path class="rt" d="M3503.700 233.300H3398.500"/>
<path class="ms" d="M3398.500 257.300H3630.400"/><path class="rt" d="M3630.400 281.300H3398.500"/>
<path class="ms" d="M3398.500 305.300H3779.600"/><path class="rt" d="M3779.600 329.300H3398.500"/>
<path class="ms" d="M3398.500 353.300H3779.600"/><path class="rt" d="M3779.600 1113.300H3398.500"/>
<path class="ms" d="M3787.800 377.300H3828.300V385.300H3790.600"/>
<path class="ms" d="M3787.800 441.300H3847.500V449.300H3790.600"/>
<path class="ms" d="M3790.600 473.300H3871.400V481.300H3793.400"/>
<path class="ms" d="M3782.400 537.300H3511.500"/>
<path class="ms" d="M3511.700 561.300H3572.500V569.300H3514.700"/>
<path class="rt" d="M3511.700 625.300H3782.400"/>
<path class="ms" d="M3782.400 649.300H3638.600"/>
<path class="ms" d="M3630.400 673.300H3511.700"/><path class="rt" d="M3511.700 697.300H3630.400"/>
<path class="rt" d="M3638.600 721.300H3782.400"/>
<path class="ms" d="M3782.400 745.300H3511.700"/><path class="rt" d="M3511.700 769.300H3782.400"/>
<path class="ms" d="M3787.800 825.300H3846.600V833.300H3790.600"/>
<path class="ms" d="M3782.400 857.300H3511.700"/><path class="rt" d="M3511.700 881.300H3782.400"/>
<path class="ms" d="M3787.800 937.300H3838.400V945.300H3790.600"/>
<path class="ms" d="M3782.400 969.300H3638.600"/>
<path class="ms" d="M3638.600 993.300H3710.700V1001.300H3641.400"/>
<path class="rt" d="M3638.600 1057.300H3782.400"/>
<text class="sl" x="3404" y="201" textLength="93" lengthAdjust="spacingAndGlyphs">1.1:&lt;&lt;create&gt;&gt;</text>
<text class="sl" x="3531.200" y="249" textLength="93.200" lengthAdjust="spacingAndGlyphs">1.2:&lt;&lt;create&gt;&gt;</text>
<text class="sl" x="3680" y="297" textLength="93.600" lengthAdjust="spacingAndGlyphs">1.3:&lt;&lt;create&gt;&gt;</text>
<text class="sl" x="3726.300" y="345" textLength="47.700" lengthAdjust="spacingAndGlyphs">1.4:start</text>
<text class="sl" x="3796" y="369" textLength="63.500" lengthAdjust="spacingAndGlyphs">1.4.1:panel</text>
<text class="sl" x="3796" y="433" textLength="102.500" lengthAdjust="spacingAndGlyphs">1.4.2:flightService</text>
<text class="sl" x="3799.300" y="465" textLength="144.200" lengthAdjust="spacingAndGlyphs">1.4.2.1:flightServicePanel</text>
<text class="sl" x="3667" y="529" textLength="106.600" lengthAdjust="spacingAndGlyphs">1.4.2.2:printPlanes</text>
<text class="sl" x="3520.200" y="553" textLength="104.200" lengthAdjust="spacingAndGlyphs">1.4.2.2.1:translate</text>
<text class="sl" x="3668" y="641" textLength="105.600" lengthAdjust="spacingAndGlyphs">1.4.2.3:printFlights</text>
<text class="sl" x="3520.200" y="665" textLength="104.200" lengthAdjust="spacingAndGlyphs">1.4.2.3.1:translate</text>
<text class="sl" x="3652" y="737" textLength="121.600" lengthAdjust="spacingAndGlyphs">1.4.2.4:printPlaneInfo</text>
<text class="sl" x="3796" y="817" textLength="100.200" lengthAdjust="spacingAndGlyphs">1.4.3:addAirplane</text>
<text class="sl" x="3709.400" y="849" textLength="64.200" lengthAdjust="spacingAndGlyphs">1.4.3.1:add</text>
<text class="sl" x="3796" y="929" textLength="84" lengthAdjust="spacingAndGlyphs">1.4.4:addFlight</text>
<text class="sl" x="3655" y="961" textLength="118.600" lengthAdjust="spacingAndGlyphs">1.4.4.1:addNewFlight</text>
<text class="sl" x="3647.400" y="985" textLength="126.200" lengthAdjust="spacingAndGlyphs">1.4.4.1.1:&lt;&lt;create&gt;&gt;</text>
</g>
</g>
</svg>
